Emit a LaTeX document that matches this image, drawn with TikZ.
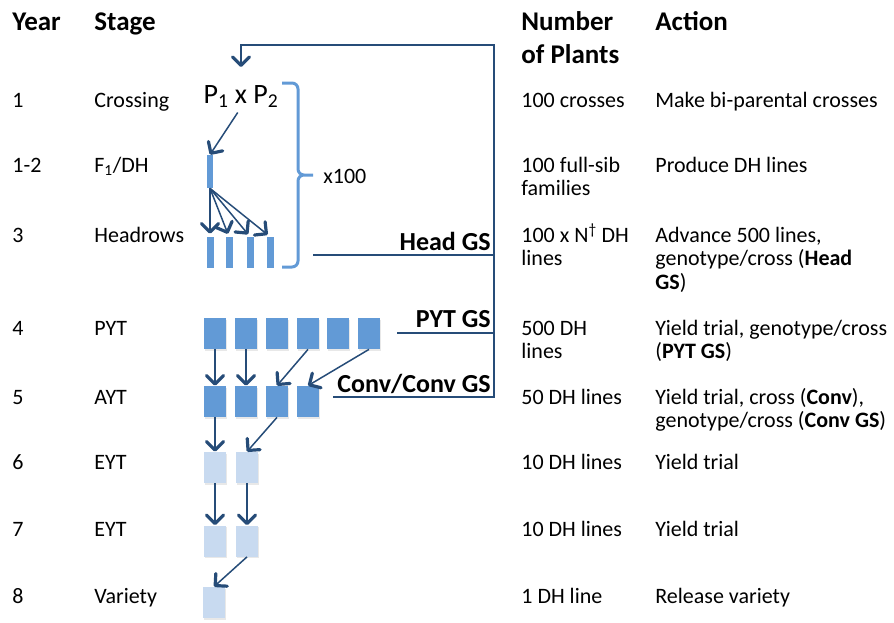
\documentclass[tikz,border=0pt]{standalone}
\usepackage{fontspec}
\setmainfont{Carlito}
\usepackage{tikz}
\tikzset{every picture/.style={line width=0.75pt}}
\usetikzlibrary{arrows.meta, positioning, shadows}
\definecolor{navy}{RGB}{38,76,120}
\definecolor{midblue}{RGB}{98,154,214}
\definecolor{paleblue}{RGB}{200,218,240}

\begin{document}
\begin{tikzpicture}[x=1pt, y=-1pt,
		% Table text (base anchor sits on the last line)
		txt/.style={anchor=base west, inner sep=0pt, align=left,
			font=\fontsize{22}{23.5}\selectfont},
		hdr/.style={txt, font=\bfseries\fontsize{27}{33}\selectfont},
		gslabel/.style={anchor=base east, inner sep=0pt,
			font=\bfseries\fontsize{26}{30}\selectfont},
		% Plant plots and lines
		plot/.style={fill=midblue, minimum width=22pt, minimum height=31pt,
			inner sep=0pt, drop shadow={opacity=0.18, shadow xshift=1pt, shadow yshift=-1.5pt}},
		paleplot/.style={plot, fill=paleblue},
		bar/.style={fill=midblue, minimum width=7pt, minimum height=31pt, inner sep=0pt},
		% Connectors
		tip/.style={-{Straight Barb[length=8.5pt, width=17pt, line width=3.2pt, round]}},
		link/.style={draw=navy, line width=1.5pt, tip},
		loop/.style={draw=navy, line width=1.8pt}
		]
		
		\useasboundingbox (0,0) rectangle (894,622);
		
		% --- Headers ---
		\node[hdr] (hyear) at (12,30) {Year};
		\node[hdr] (hstage) at (94,30) {Stage};
		\node[hdr] (hnum) at (521,63) {Number\\of Plants};
		\node[hdr] (hact) at (655,30) {Action};
		
		% --- Year and stage ---
		\node[txt] (yr1) at (12,107) {1};
		\node[txt] (st1) at (94,107) {Crossing};
		\node[txt] (yr2) at (12,172) {1-2};
		\node[txt] (st2) at (94,172) {F\textsubscript{1}/DH};
		\node[txt] (yr3) at (12,242) {3};
		\node[txt] (st3) at (94,242) {Headrows};
		\node[txt] (yr4) at (12,335) {4};
		\node[txt] (st4) at (94,335) {PYT};
		\node[txt] (yr5) at (12,404) {5};
		\node[txt] (st5) at (94,404) {AYT};
		\node[txt] (yr6) at (12,469) {6};
		\node[txt] (st6) at (94,469) {EYT};
		\node[txt] (yr7) at (12,536) {7};
		\node[txt] (st7) at (94,536) {EYT};
		\node[txt] (yr8) at (12,603) {8};
		\node[txt] (st8) at (94,603) {Variety};
		
		% --- Number of plants ---
		\node[txt] (np1) at (521,107) {100 crosses};
		\node[txt] (np2) at (521,195.5) {100 full-sib\\families};
		\node[txt] (np3) at (521,265.5) {100 x N\textsuperscript{†} DH\\lines};
		\node[txt] (np4) at (521,358.5) {500 DH\\lines};
		\node[txt] (np5) at (521,404) {50 DH lines};
		\node[txt] (np6) at (521,469) {10 DH lines};
		\node[txt] (np7) at (521,536) {10 DH lines};
		\node[txt] (np8) at (521,603) {1 DH line};
		
		% --- Action ---
		\node[txt] (ac1) at (655,107) {Make bi-parental crosses};
		\node[txt] (ac2) at (655,172) {Produce DH lines};
		\node[txt] (ac3) at (655,289) {Advance 500 lines,\\genotype/cross (\textbf{Head}\\\textbf{GS})};
		\node[txt] (ac4) at (655,358.5) {Yield trial, genotype/cross\\(\textbf{PYT GS})};
		\node[txt] (ac5) at (655,427.5) {Yield trial, cross (\textbf{Conv}),\\genotype/cross (\textbf{Conv GS})};
		\node[txt] (ac6) at (655,469) {Yield trial};
		\node[txt] (ac7) at (655,536) {Yield trial};
		\node[txt] (ac8) at (655,603) {Release variety};
		
		% --- Crossing and F1/DH ---
		\node[anchor=base, inner sep=0pt, font=\fontsize{28}{32}\selectfont] (cross) at (241,103)
		{P\textsubscript{1} x P\textsubscript{2}};
		\node[bar, minimum width=6pt, minimum height=33pt] (f1) at (210,171.5) {};
		
		% Headrows
		\node[bar] (hr1) at (210,252.5) {};
		\node[bar] (hr2) at (229,252.5) {};
		\node[bar] (hr3) at (250,252.5) {};
		\node[bar] (hr4) at (270,252.5) {};
		
		% Brace with x100
		\draw[midblue, line width=3pt, rounded corners=6pt]
		(282,83) -- (298,83) -- (298,175) -- (313,175)
		(313,175) -- (298,175) -- (298,267) -- (282,267);
		\node[txt] (times) at (323,183) {x100};
		
		% --- Yield trials ---
		\node[plot] (pyt1) at (215,333.5) {};
		\node[plot] (pyt2) at (246,333.5) {};
		\node[plot] (pyt3) at (277,333.5) {};
		\node[plot] (pyt4) at (308,333.5) {};
		\node[plot] (pyt5) at (338,333.5) {};
		\node[plot] (pyt6) at (369,333.5) {};
		
		\node[plot] (ayt1) at (215,401.5) {};
		\node[plot] (ayt2) at (246,401.5) {};
		\node[plot] (ayt3) at (277,401.5) {};
		\node[plot] (ayt4) at (308,401.5) {};
		
		\node[paleplot] (eyta1) at (215,467.5) {};
		\node[paleplot] (eyta2) at (247,467.5) {};
		\node[paleplot] (eytb1) at (215,541) {};
		\node[paleplot] (eytb2) at (247,541) {};
		\node[paleplot] (var) at (214,602.5) {};
		
		% --- Selection arrows ---
		\draw[link, shorten <=6pt] (cross.south) -- (f1.north);
		\foreach \n in {1,...,4}
		\draw[link, shorten >=3pt] (f1.south) -- (hr\n.north);
		
		\draw[link] (pyt1) -- (ayt1);
		\draw[link] (pyt2) -- (ayt2);
		\draw[link] (pyt4.south) -- (ayt3.north);
		\draw[link] (pyt6.south) -- (ayt4.north);
		\draw[link] (ayt1) -- (eyta1);
		\draw[link] (ayt3.south) -- (eyta2.north);
		\draw[link] (eyta1) -- (eytb1);
		\draw[link] (eyta2) -- (eytb2);
		\draw[link] (eytb2.south) -- (var.north);
		
		% --- Genomic selection feedback ---
		\coordinate (headgs) at (313,255);
		\coordinate (pytgs) at (397,333);
		\coordinate (convgs) at (333,397);
		\coordinate (ret) at (241,67);
		\draw[loop] (headgs) -- (494,255);
		\draw[loop] (pytgs) -- (494,333);
		\draw[loop, tip] (convgs) -- (494,397) -- (494,45) -- (241,45) -- (ret);
		
		\node[gslabel] (lhead) at (491,250) {Head GS};
		\node[gslabel] (lpyt) at (491,327) {PYT GS};
		\node[gslabel] (lconv) at (491,392) {Conv/Conv GS};
		
	\end{tikzpicture}
\end{document}
